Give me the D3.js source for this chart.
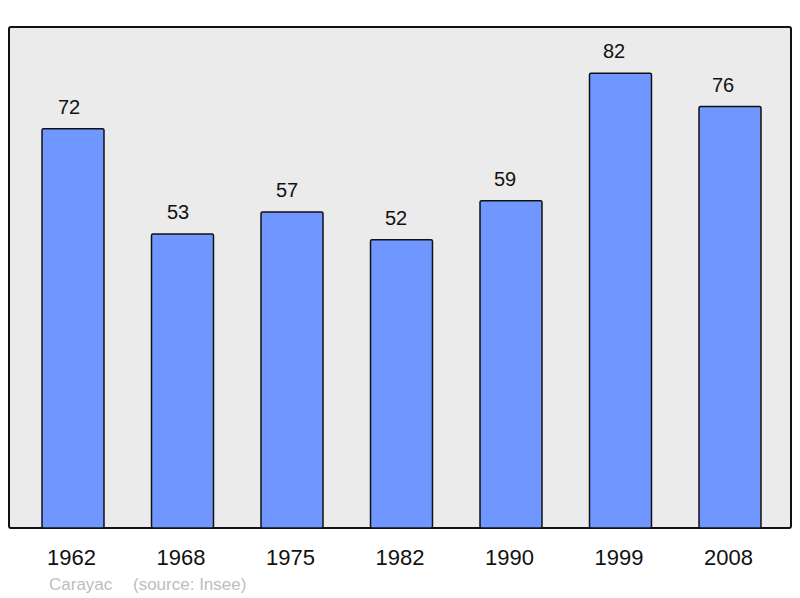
<!DOCTYPE html>
<html><head><meta charset="utf-8">
<script src="https://cdn.jsdelivr.net/npm/d3@7"></script>
<style>body{margin:0;background:#fff}svg{display:block}</style>
</head><body>
<script>
const years = ["1962","1968","1975","1982","1990","1999","2008"];
const population = [72,53,57,52,59,82,76];
const commune = "Carayac";
const source = "(source: Insee)";

const W = 800, H = 598;
const frame = {x0: 9, y0: 27, x1: 791, y1: 528};
const svg = d3.select("body").append("svg").attr("width", W).attr("height", H);
const font = "'Liberation Sans', Arial, sans-serif";

svg.append("rect").attr("x", frame.x0).attr("y", frame.y0)
  .attr("width", frame.x1 - frame.x0).attr("height", frame.y1 - frame.y0)
  .attr("rx", 2).attr("fill", "#ebebeb").attr("stroke", "#111").attr("stroke-width", 2);

const x = d3.scaleBand().domain(years).range([18.25, 784.75]).paddingInner(0.434).paddingOuter(0.217);
const xLabel = d3.scalePoint().domain(years).range([69, 723]);
const y = d3.scaleLinear().domain([0, 90.35]).range([frame.y1, frame.y0]);

const g = svg.append("g");
g.selectAll("rect.bar").data(years).join("rect").attr("class","bar")
  .attr("x", d => x(d)).attr("width", x.bandwidth())
  .attr("y", (d,i) => y(population[i])).attr("height", (d,i) => y(0) - y(population[i]))
  .attr("rx", 1.5)
  .attr("fill", "#7096ff").attr("stroke", "#111").attr("stroke-width", 1.5);

g.selectAll("text.val").data(years).join("text").attr("class","val")
  .attr("x", d => xLabel(d)).attr("y", (d,i) => y(population[i]) - 15)
  .attr("text-anchor","middle").attr("font-family", font).attr("font-size", 20).attr("fill","#111")
  .text((d,i) => population[i]);

const xAxis = d3.axisBottom(x).tickSize(0).tickPadding(0);
const ax = svg.append("g").attr("transform", `translate(-1.5,${frame.y1})`).call(xAxis);
ax.select(".domain").remove();
ax.selectAll("text").attr("font-family", font).attr("font-size", 22).attr("fill","#111")
  .attr("dy", null).attr("y", 37);

svg.append("text").attr("x", 49).attr("y", 590).attr("font-family", font).attr("font-size", 17)
  .attr("fill", "#bdbdbd").text(commune);
svg.append("text").attr("x", 133).attr("y", 590).attr("font-family", font).attr("font-size", 17)
  .attr("fill", "#bdbdbd").text(source);
</script>
</body></html>
